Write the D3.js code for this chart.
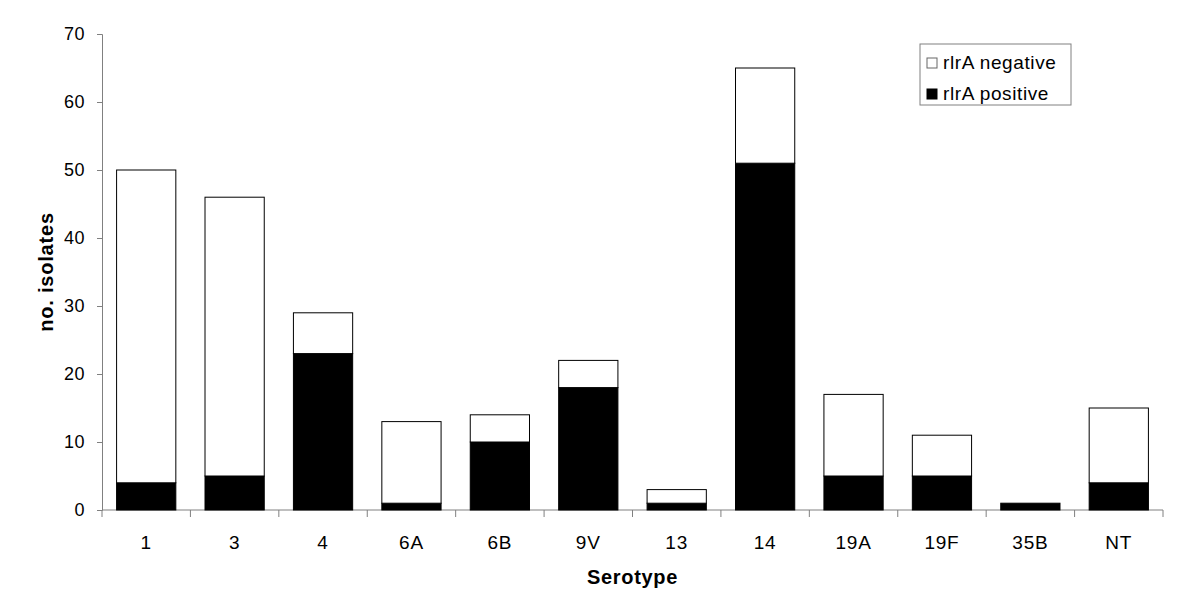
<!DOCTYPE html>
<html>
  <head>
    <meta charset="UTF-8">
    <title>rlrA by serotype</title>
    <script src="https://d3js.org/d3.v7.min.js"></script>
    <style>
      body { margin: 0; background: #fff; }
      text { font-family: "Liberation Sans", Arial, sans-serif; }
    </style>
  </head>
  <body>
    <div id="graph"></div>
    <script>

const serotypes = ["1", "3", "4", "6A", "6B", "9V", "13", "14", "19A", "19F", "35B", "NT"];
const positive = [4, 5, 23, 1, 10, 18, 1, 51, 5, 5, 1, 4];
const negative = [46, 41, 6, 12, 4, 4, 2, 14, 12, 6, 0, 11];
const yTicks = [0, 10, 20, 30, 40, 50, 60, 70];
const seriesNames = ["rlrA negative", "rlrA positive"];

const svgWidth = 1200;
const svgHeight = 600;

const margin = {top: 34, right: 37, bottom: 90, left: 102};
const chartWidth = svgWidth - margin.left - margin.right;
const chartHeight = svgHeight - margin.top - margin.bottom;

const svg = d3.select("#graph")
  .append("svg")
  .attr("width", svgWidth)
  .attr("height", svgHeight);

const chart = svg.append("g")
  .attr("transform", "translate(" + margin.left + "," + margin.top + ")");

const xScale = d3.scaleBand()
  .domain(serotypes)
  .range([0, chartWidth])
  .paddingInner(0.33)
  .paddingOuter(0.165);

const yScale = d3.scaleLinear()
  .domain([0, 70])
  .range([chartHeight, 0]);

const rows = serotypes.map((s, i) => ({serotype: s, pos: positive[i], neg: negative[i]}));

// y axis
const yAxis = chart.append("g")
  .call(d3.axisLeft(yScale).tickValues(yTicks).tickSize(5).tickPadding(12));
yAxis.selectAll("path, line").attr("stroke", "#808080");
yAxis.selectAll("text")
  .attr("font-size", 18)
  .attr("letter-spacing", 0.5)
  .attr("fill", "#000");

// x axis with ticks at band boundaries
const step = xScale.step();
const boundaries = d3.range(serotypes.length + 1).map(i => i * step);
const xAxisG = chart.append("g")
  .attr("transform", "translate(0," + chartHeight + ")");
xAxisG.append("line")
  .attr("x1", 0).attr("x2", chartWidth)
  .attr("stroke", "#808080");
xAxisG.selectAll(".btick")
  .data(boundaries)
  .enter()
  .append("line")
  .attr("x1", d => d).attr("x2", d => d)
  .attr("y1", 0).attr("y2", 7)
  .attr("stroke", "#808080");
xAxisG.selectAll(".xlabel")
  .data(serotypes)
  .enter()
  .append("text")
  .attr("x", d => xScale(d) + xScale.bandwidth() / 2)
  .attr("y", 39)
  .attr("text-anchor", "middle")
  .attr("font-size", 19)
  .attr("letter-spacing", 0.8)
  .text(d => d);

// stacked bars
chart.selectAll(".pos")
  .data(rows.filter(d => d.pos > 0))
  .enter()
  .append("rect")
  .attr("x", d => xScale(d.serotype))
  .attr("y", d => yScale(d.pos))
  .attr("width", xScale.bandwidth())
  .attr("height", d => chartHeight - yScale(d.pos))
  .attr("fill", "#000")
  .attr("stroke", "#000");

chart.selectAll(".neg")
  .data(rows.filter(d => d.neg > 0))
  .enter()
  .append("rect")
  .attr("x", d => xScale(d.serotype))
  .attr("y", d => yScale(d.pos + d.neg))
  .attr("width", xScale.bandwidth())
  .attr("height", d => yScale(d.pos) - yScale(d.pos + d.neg))
  .attr("fill", "#fff")
  .attr("stroke", "#000");

// axis titles
svg.append("text")
  .attr("transform", "translate(53," + (margin.top + chartHeight / 2) + ") rotate(-90)")
  .attr("text-anchor", "middle")
  .attr("font-size", 20)
  .attr("font-weight", "bold")
  .attr("letter-spacing", 0.8)
  .text("no. isolates");

svg.append("text")
  .attr("x", margin.left + chartWidth / 2)
  .attr("y", 584)
  .attr("text-anchor", "middle")
  .attr("font-size", 20)
  .attr("font-weight", "bold")
  .attr("letter-spacing", 0.7)
  .text("Serotype");

// legend
const legend = svg.append("g").attr("transform", "translate(920,44)");
legend.append("rect")
  .attr("width", 151).attr("height", 61)
  .attr("fill", "#fff")
  .attr("stroke", "#808080");
const legendFills = ["#fff", "#000"];
seriesNames.forEach((name, i) => {
  legend.append("rect")
    .attr("x", 7).attr("y", 14 + i * 31)
    .attr("width", 10).attr("height", 10)
    .attr("fill", legendFills[i])
    .attr("stroke", i === 0 ? "#666" : "#000");
  legend.append("text")
    .attr("x", 23).attr("y", 25 + i * 31)
    .attr("font-size", 19)
    .attr("letter-spacing", 0.6)
    .text(name);
});

    </script>
  </body>
</html>
